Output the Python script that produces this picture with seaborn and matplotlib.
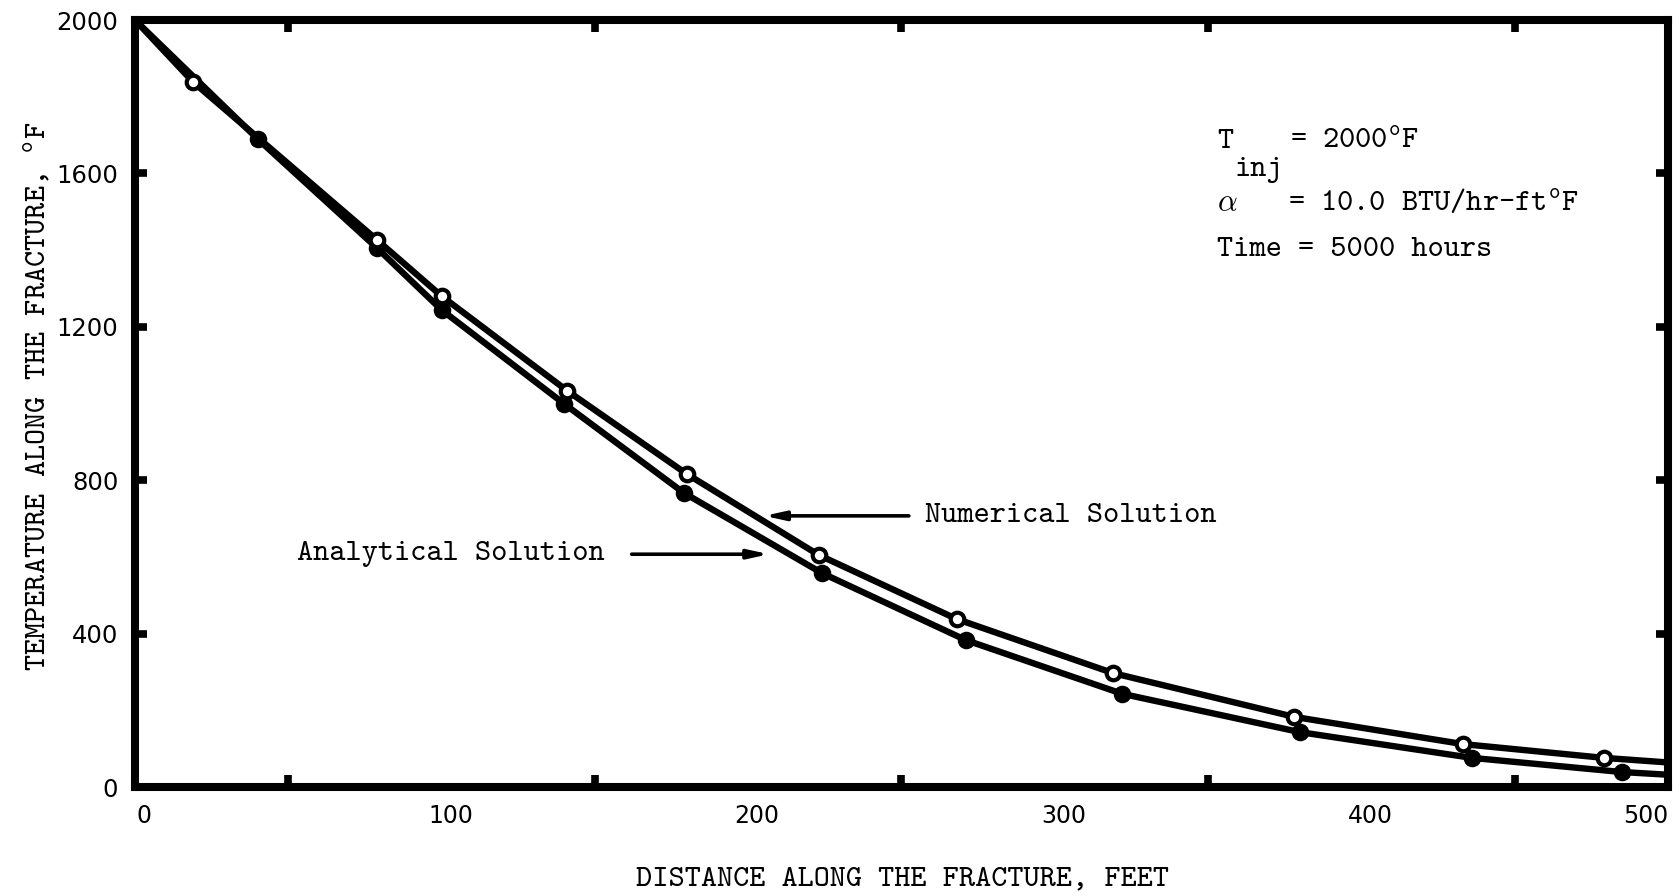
import matplotlib
matplotlib.use("Agg")
import matplotlib.pyplot as plt
import matplotlib.transforms as mtransforms
import seaborn as sns
import pandas as pd

# Temperature profile along the fracture (distance in ft, temperature in deg F)
numerical_x = [0, 19, 79, 100, 141, 180, 223, 268, 319, 378, 433, 479, 500]
numerical_T = [2000, 1838, 1426, 1280, 1033, 816, 605, 438, 297, 183, 112, 76, 64]
analytical_x = [0, 40, 79, 100, 140, 179, 224, 271, 322, 380, 436, 485, 500]
analytical_T = [2000, 1690, 1405, 1244, 999, 767, 558, 383, 243, 143, 76, 39, 32]

x_ticks = [0, 100, 200, 300, 400, 500]
x_minor = [50, 150, 250, 350, 450]
y_ticks = [0, 400, 800, 1200, 1600, 2000]

x_label = "DISTANCE ALONG THE FRACTURE, FEET"
y_label = r"TEMPERATURE ALONG THE FRACTURE, $^{\mathtt{o}}$F"

sns.set_theme(style="white")
plt.rcParams["font.family"] = ["DejaVu Sans"]
plt.rcParams["mathtext.fontset"] = "cm"

MONO = "cmtt10"
FS = 22.2

fig = plt.figure(figsize=(16.81, 8.96), dpi=100)
ax = fig.add_axes([135 / 1681, 1 - 787 / 896, (1668 - 135) / 1681, (787 - 20) / 896])

num = pd.DataFrame({"x": numerical_x, "T": numerical_T})
ana = pd.DataFrame({"x": analytical_x, "T": analytical_T})

sns.lineplot(data=num, x="x", y="T", color="black", lw=4.6, ax=ax, zorder=3)
sns.lineplot(data=ana, x="x", y="T", color="black", lw=4.6, ax=ax, zorder=3)

sns.scatterplot(data=ana.iloc[1:-1], x="x", y="T", s=135, color="black",
                edgecolor="black", linewidth=1, ax=ax, zorder=4)
sns.scatterplot(data=num.iloc[1:-1], x="x", y="T", s=95, color="white",
                edgecolor="black", linewidth=3.0, ax=ax, zorder=5)

ax.set_xlim(0, 500)
ax.set_ylim(0, 2000)
ax.set_xticks(x_ticks)
ax.set_xticks(x_minor, minor=True)
ax.set_yticks(y_ticks)
ax.set_xlabel("")
ax.set_ylabel("")

for s in ax.spines.values():
    s.set_linewidth(5.8)
    s.set_color("black")
    s.set_visible(True)

ax.tick_params(axis="x", which="major", length=0, labelsize=17, pad=12,
               colors="black")
ax.tick_params(axis="x", which="minor", direction="in", length=8.5, width=5.5,
               top=True, bottom=True, color="black")
ax.tick_params(axis="y", which="major", direction="in", length=8.5, width=5.5,
               left=True, right=True, labelsize=17.5, pad=12, color="black",
               labelcolor="black")

# numbers along the distance axis sit a little right of their positions
shift = mtransforms.ScaledTranslation(9 / 100, 0, fig.dpi_scale_trans)
xlabels = ax.get_xticklabels()
for lab in xlabels[:-1]:
    lab.set_transform(lab.get_transform() + shift)
xlabels[-1].set_horizontalalignment("right")

# axis titles in typewriter face
fig.text(903 / 1681, 1 - 879 / 896, x_label, family=MONO, fontsize=FS,
         ha="center", va="center", color="black")
fig.text(37 / 1681, 1 - 396 / 896, y_label, family=MONO, fontsize=FS,
         rotation=90, ha="center", va="center", color="black")

# parameter block
ax.text(352.9, 1682, "T", family=MONO, fontsize=FS, va="center", color="black")
ax.text(358.8, 1609, "inj", family=MONO, fontsize=FS, va="center", color="black")
ax.text(376.7, 1682, r"= 2000$^{\mathtt{o}}$F", family=MONO, fontsize=FS,
        va="center", color="black")
ax.text(352.9, 1523, r"$\alpha$", fontsize=FS, va="center", color="black")
ax.text(376.0, 1523, r"= 10.0 BTU/hr-ft$^{\mathtt{o}}$F", family=MONO,
        fontsize=FS, va="center", color="black")
ax.text(352.9, 1400, "Time = 5000 hours", family=MONO, fontsize=FS,
        va="center", color="black")

# curve call-outs
arrow = dict(arrowstyle="-|>,head_length=1.0,head_width=0.22", lw=2.6,
             color="black", shrinkA=0, shrinkB=0)
ax.text(52.8, 607, "Analytical Solution", family=MONO, fontsize=FS,
        va="center", color="black")
ax.annotate("", xy=(206.8, 607), xytext=(162.0, 607), arrowprops=arrow)
ax.text(257.7, 707, "Numerical Solution", family=MONO, fontsize=FS,
        va="center", color="black")
ax.annotate("", xy=(205.2, 707), xytext=(252.4, 707), arrowprops=arrow)

fig.savefig("out.png", dpi=100, facecolor="white")
